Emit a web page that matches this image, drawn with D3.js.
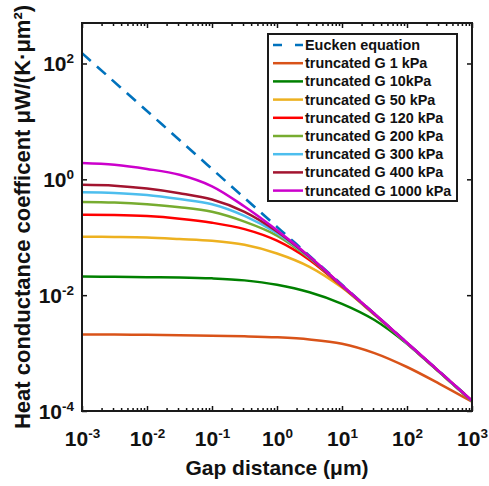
<!DOCTYPE html>
<html>
<head>
<meta charset="utf-8">
<script src="https://cdn.jsdelivr.net/npm/d3@7"></script>
<style>
body { margin: 0; background: #fff; }
svg { display: block; font-family: "Liberation Sans", Arial, sans-serif; font-weight: bold; }
</style>
</head>
<body>
<div class="chart"></div>
<script>
// values
var gap = [0.001, 0.00316, 0.01, 0.0316, 0.1, 0.316, 1, 3.16, 10, 31.6, 100, 316, 1000];

var euckenGap = [0.001, 0.01, 0.1, 1, 10, 100, 1000];
var euckenG = [151, 15.1, 1.51, 0.151, 0.0151, 0.00151, 0.000152];

var g1kPa = [0.00209, 0.00209, 0.00207, 0.00204, 0.00200, 0.00195, 0.00187, 0.00172, 0.00145, 0.00100, 0.000575, 0.000295, 0.000145];
var g10kPa = [0.0209, 0.0207, 0.0204, 0.0202, 0.0195, 0.0180, 0.0151, 0.0112, 0.00708, 0.00372, 0.00145, 0.000468, 0.000148];
var g50kPa = [0.102, 0.101, 0.0989, 0.0933, 0.0871, 0.0741, 0.0525, 0.0309, 0.0135, 0.00457, 0.00148, 0.000468, 0.000148];
var g120kPa = [0.245, 0.243, 0.232, 0.209, 0.178, 0.138, 0.0871, 0.0407, 0.0141, 0.00468, 0.00148, 0.000468, 0.000148];
var g200kPa = [0.407, 0.398, 0.372, 0.331, 0.275, 0.186, 0.107, 0.0437, 0.0145, 0.00468, 0.00148, 0.000468, 0.000148];
var g300kPa = [0.596, 0.582, 0.537, 0.457, 0.372, 0.234, 0.117, 0.0447, 0.0145, 0.00468, 0.00148, 0.000468, 0.000148];
var g400kPa = [0.804, 0.776, 0.692, 0.575, 0.447, 0.275, 0.126, 0.0457, 0.0146, 0.00473, 0.00150, 0.000473, 0.000150];
var g1000kPa = [1.91, 1.78, 1.51, 1.20, 0.759, 0.339, 0.132, 0.0468, 0.0148, 0.00479, 0.00151, 0.000479, 0.000151];

var seriesNames = ["truncated G 1 kPa", "truncated G 10kPa", "truncated G 50 kPa", "truncated G 120 kPa",
                   "truncated G 200 kPa", "truncated G 300 kPa", "truncated G 400 kPa", "truncated G 1000 kPa"];
var seriesValues = [g1kPa, g10kPa, g50kPa, g120kPa, g200kPa, g300kPa, g400kPa, g1000kPa];
var seriesColors = ["#D95319", "#008000", "#EDB120", "#FF0000", "#77AC30", "#4DBEEE", "#A2142F", "#CC00CC"];
var euckenName = "Eucken equation";
var euckenColor = "#0072BD";

var xTicks = [1e-3, 1e-2, 1e-1, 1, 10, 100, 1000];
var yTicks = [1e-4, 1e-2, 1, 100];

var width = 489, height = 486;
var plotLeft = 82, plotRight = 472, plotTop = 23, plotBottom = 411;

var svg = d3.select(".chart").append("svg")
    .attr("width", width)
    .attr("height", height);

var x = d3.scaleLog().domain([1e-3, 1e3]).range([plotLeft, plotRight]);
var y = d3.scaleLog().domain([1e-4, 500]).range([plotBottom, plotTop]);

// minor ticks on the x axis (2..9 in every decade)
var xMinor = [];
xTicks.slice(0, -1).forEach(function(d) {
    for (var k = 2; k < 10; k++) xMinor.push(d * k);
});

function powLabel(sel, size, sup) {
    sel.each(function(d) {
        var t = d3.select(this);
        var e = Math.round(Math.log10(d));
        t.text(null).style("font-size", size + "px").attr("fill", "#111");
        t.append("tspan").text("10");
        t.append("tspan").attr("dy", sup).style("font-size", "13.5px").text(e);
    });
}

var lineGen = d3.line()
    .x(function(d) { return x(d[0]); })
    .y(function(d) { return y(d[1]); })
    .curve(d3.curveCatmullRom.alpha(0.5));

var plot = svg.append("g");

// Eucken line drawn first, the truncated curves lie on top of it
plot.append("path")
    .attr("d", lineGen(euckenGap.map(function(d, i) { return [d, euckenG[i]]; })))
    .attr("fill", "none")
    .attr("stroke", euckenColor)
    .attr("stroke-width", 2.6)
    .attr("stroke-dasharray", "12,8");

seriesValues.forEach(function(vals, i) {
    plot.append("path")
        .attr("d", lineGen(gap.map(function(d, j) { return [d, vals[j]]; })))
        .attr("fill", "none")
        .attr("stroke", seriesColors[i])
        .attr("stroke-width", 2.5);
});

// axes, ticks pointing inward
var axX = svg.append("g").attr("transform", "translate(0," + plotBottom + ")")
    .call(d3.axisBottom(x).tickValues(xTicks).tickSizeInner(-5).tickSizeOuter(0));
axX.selectAll("text").attr("y", 35).attr("dy", 0).call(powLabel, 21, -8);

svg.append("g").attr("transform", "translate(0," + plotBottom + ")")
    .call(d3.axisBottom(x).tickValues(xMinor).tickSizeInner(-3).tickSizeOuter(0).tickFormat(""));
svg.append("g").attr("transform", "translate(0," + plotTop + ")")
    .call(d3.axisTop(x).tickValues(xTicks).tickSizeInner(-5).tickSizeOuter(0).tickFormat(""));
svg.append("g").attr("transform", "translate(0," + plotTop + ")")
    .call(d3.axisTop(x).tickValues(xMinor).tickSizeInner(-3).tickSizeOuter(0).tickFormat(""));

var axY = svg.append("g").attr("transform", "translate(" + plotLeft + ",0)")
    .call(d3.axisLeft(y).tickValues(yTicks).tickSizeInner(-5).tickSizeOuter(0).tickPadding(8));
axY.selectAll("text").attr("x", -8).attr("dy", 7).call(powLabel, 21, -8);

svg.append("g").attr("transform", "translate(" + plotRight + ",0)")
    .call(d3.axisRight(y).tickValues(yTicks).tickSizeInner(-5).tickSizeOuter(0).tickFormat(""));

svg.selectAll(".domain").remove();
svg.selectAll(".tick line").attr("stroke", "#111").attr("stroke-width", 1.5);

svg.append("rect")
    .attr("x", plotLeft).attr("y", plotTop)
    .attr("width", plotRight - plotLeft).attr("height", plotBottom - plotTop)
    .attr("fill", "none")
    .attr("stroke", "#1a1a1a")
    .attr("stroke-width", 2);

// axis titles
svg.append("text")
    .attr("x", (plotLeft + plotRight) / 2)
    .attr("y", 475)
    .attr("text-anchor", "middle")
    .attr("fill", "#111")
    .style("font-size", "21px")
    .text("Gap distance (μm)");

svg.append("text")
    .attr("transform", "translate(30," + (plotTop + plotBottom) / 2 + ") rotate(-90)")
    .attr("text-anchor", "middle")
    .attr("fill", "#111")
    .style("font-size", "22px")
    .text("Heat conductance coefficent μW/(K·μm²)");

// legend
var legend = svg.append("g").attr("transform", "translate(268,34)");
legend.append("rect")
    .attr("width", 189).attr("height", 167)
    .attr("fill", "#fff")
    .attr("stroke", "#1a1a1a")
    .attr("stroke-width", 2);

var legendRows = [{ name: euckenName, color: euckenColor, dash: "9,13" }].concat(
    seriesNames.map(function(n, i) { return { name: n, color: seriesColors[i], dash: null }; }));

var item = legend.selectAll(".legend-item")
    .data(legendRows)
    .enter().append("g")
    .attr("class", "legend-item")
    .attr("transform", function(d, i) { return "translate(0," + (11 + i * 18.2) + ")"; });

item.append("line")
    .attr("x1", 5).attr("x2", 35)
    .attr("stroke", function(d) { return d.color; })
    .attr("stroke-width", 2.5)
    .attr("stroke-dasharray", function(d) { return d.dash; });

item.append("text")
    .attr("x", 37)
    .attr("y", 5)
    .attr("fill", "#111")
    .style("font-size", "14.4px")
    .text(function(d) { return d.name; });
</script>
</body>
</html>
